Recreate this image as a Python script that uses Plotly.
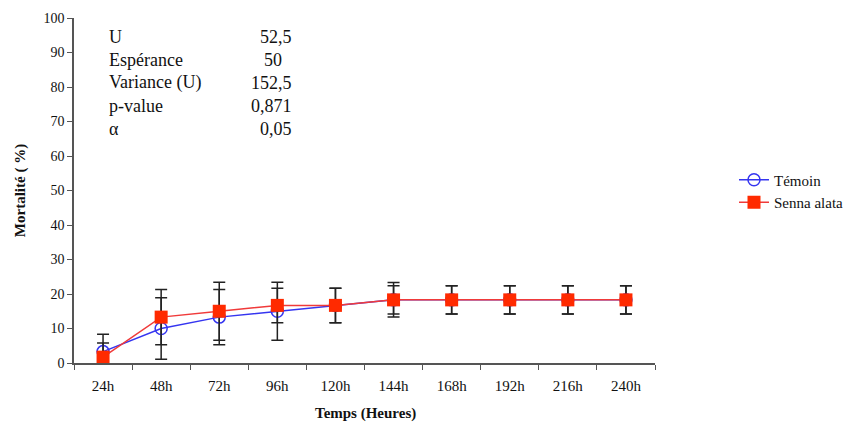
import plotly.graph_objects as go

categories = ["24h", "48h", "72h", "96h", "120h", "144h", "168h", "192h", "216h", "240h"]
temoin = [3.3, 10, 13.3, 15, 16.7, 18.3, 18.3, 18.3, 18.3, 18.3]
temoin_err = [5, 8.9, 8, 8.4, 5, 5, 4.1, 4.1, 4.1, 4.1]
senna = [1.7, 13.3, 15, 16.7, 16.7, 18.3, 18.3, 18.3, 18.3, 18.3]
senna_err = [4.1, 8, 8.4, 5, 5, 4.1, 4.1, 4.1, 4.1, 4.1]

stat_labels = ["U", "Espérance", "Variance (U)", "p-value", "α"]
stat_values = ["52,5", "50", "152,5", "0,871", "0,05"]

x_title = "Temps (Heures)"
y_title = "Mortalité ( %)"

FONT = "Liberation Serif, Times New Roman, serif"

# body margin is removed by post_script, so figure fills the window
OFF = 0
W, H = 863, 424
# plot area in screen pixels
SX0, SX1, SY0, SY1 = 74, 655, 18, 363
L, R, T, B = SX0 - OFF, W - (SX1 - OFF), SY0 - OFF, H - (SY1 - OFF)
pw, ph = W - L - R, H - T - B


def px(xs):
    return (xs - OFF - L) / pw


def py(ys):
    return (H - B - (ys - OFF)) / ph


fig = go.Figure()
fig.add_trace(go.Scatter(
    x=categories, y=temoin, name="Témoin", mode="lines+markers",
    line=dict(color="#3535f0", width=1.5),
    marker=dict(symbol="circle-open", size=12, color="#3535f0", line=dict(width=1.5)),
    error_y=dict(type="data", array=temoin_err, color="#222222", thickness=1.5, width=6),
))
fig.add_trace(go.Scatter(
    x=categories, y=senna, name="Senna alata", mode="lines+markers",
    line=dict(color="#f03a3a", width=1.5),
    marker=dict(symbol="square", size=13, color="#ff2a00"),
    error_y=dict(type="data", array=senna_err, color="#222222", thickness=1.5, width=6),
))

# statistics block
for i, (lab, val) in enumerate(zip(stat_labels, stat_values)):
    ys = 37 + i * 23
    fig.add_annotation(x=px(107), y=py(ys), xref="paper", yref="paper", text=lab,
                       showarrow=False, xanchor="left", yanchor="middle",
                       font=dict(family=FONT, size=18, color="#111"))
    if val == "50":
        fig.add_annotation(x=px(273), y=py(ys), xref="paper", yref="paper", text=val,
                           showarrow=False, xanchor="center", yanchor="middle",
                           font=dict(family=FONT, size=18, color="#111"))
    else:
        fig.add_annotation(x=px(294), y=py(ys), xref="paper", yref="paper", text=val,
                           showarrow=False, xanchor="right", yanchor="middle",
                           font=dict(family=FONT, size=18, color="#111"))

# x-axis title
fig.add_annotation(x=px(365), y=py(413), xref="paper", yref="paper",
                   text="<b>" + x_title + "</b>", showarrow=False,
                   xanchor="center", yanchor="middle",
                   font=dict(family=FONT, size=15, color="#111"))

fig.update_layout(
    width=W, height=H,
    margin=dict(l=L, r=R, t=T, b=B, autoexpand=False),
    paper_bgcolor="white", plot_bgcolor="white",
    font=dict(family=FONT, size=13, color="#111"),
    showlegend=True,
    legend=dict(x=px(734), y=py(191), xanchor="left", yanchor="middle",
                font=dict(family=FONT, size=15, color="#111"),
                bgcolor="rgba(0,0,0,0)", tracegroupgap=0),
    xaxis=dict(type="category", categoryorder="array", categoryarray=categories,
               range=[-0.5, len(categories) - 0.5], automargin=False,
               showline=True, linecolor="#555", linewidth=1.5,
               ticks="outside", tickson="boundaries", ticklen=5, tickcolor="#555",
               ticklabelstandoff=8,
               showgrid=False, zeroline=False,
               tickfont=dict(family=FONT, size=15)),
    yaxis=dict(range=[0, 100], dtick=10, automargin=False,
               showline=True, linecolor="#555", linewidth=1.5,
               ticks="outside", ticklen=5, tickcolor="#555",
               showgrid=False, zeroline=False,
               title=dict(text="<b>" + y_title + "</b>", font=dict(family=FONT, size=15), standoff=14),
               tickfont=dict(family=FONT, size=14)),
)

fig.write_html("out.html", config={"displayModeBar": False},
               post_script="document.body.style.margin='0';")
